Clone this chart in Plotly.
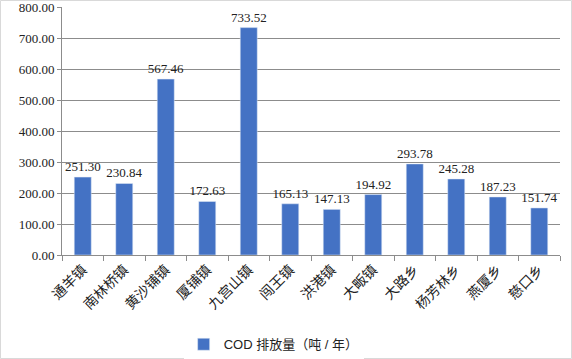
import plotly.graph_objects as go

towns = ["通羊镇", "南林桥镇", "黄沙铺镇", "厦铺镇", "九宫山镇", "闯王镇", "洪港镇",
         "大畈镇", "大路乡", "杨芳林乡", "燕厦乡", "慈口乡"]
cod = [251.30, 230.84, 567.46, 172.63, 733.52, 165.13, 147.13,
       194.92, 293.78, 245.28, 187.23, 151.74]
series_name = "COD 排放量（吨 / 年）"

W, H = 572, 359
ML, MR, MT, MB = 62, 12, 7, 104
SERIF = "Liberation Serif"

fig = go.Figure(go.Bar(
    x=towns, y=cod, name=series_name,
    marker=dict(color="#4472C4"),
    text=[f"{v:.2f}" for v in cod], textposition="outside",
    textfont=dict(family=SERIF, size=13, color="#222"),
    constraintext="none",
    cliponaxis=False,
))

pw = W - ML - MR
ph = H - MT - MB
fig.add_shape(type="rect", xref="paper", yref="paper",
              x0=-ML / pw + 0.5 / pw, x1=1 + (MR - 0.5) / pw,
              y0=-MB / ph + 0.5 / ph, y1=1 + (MT - 0.5) / ph,
              line=dict(color="#d9d9d9", width=1), layer="below")

fig.update_layout(
    width=W, height=H,
    margin=dict(l=ML, r=MR, t=MT, b=MB, autoexpand=False),
    paper_bgcolor="white", plot_bgcolor="white",
    bargap=0.59,
    showlegend=True,
    legend=dict(orientation="h", x=0.425, xanchor="center", y=-0.36, yanchor="middle",
                font=dict(family="Liberation Sans, Noto Sans CJK SC", size=13, color="#222")),
    yaxis=dict(range=[0, 800], dtick=100, tickformat=".2f", automargin=False,
               ticklabeloverflow="allow",
               showgrid=True, gridcolor="#8c8c8c", gridwidth=1,
               showline=True, linecolor="#8c8c8c", ticks="outside", ticklen=4, tickcolor="#8c8c8c",
               tickfont=dict(family=SERIF, size=13, color="#222"),
               zeroline=False),
    xaxis=dict(tickangle=-45, showline=True, linecolor="#8c8c8c", automargin=False,
               ticks="outside", tickson="boundaries", ticklen=5, tickcolor="#8c8c8c",
               tickfont=dict(family="Noto Sans CJK SC", size=14, color="#222")),
    font=dict(family="Noto Sans CJK SC"),
)

fig.write_html("out.html", config={"displayModeBar": False},
               post_script="document.body.style.margin='0';")
